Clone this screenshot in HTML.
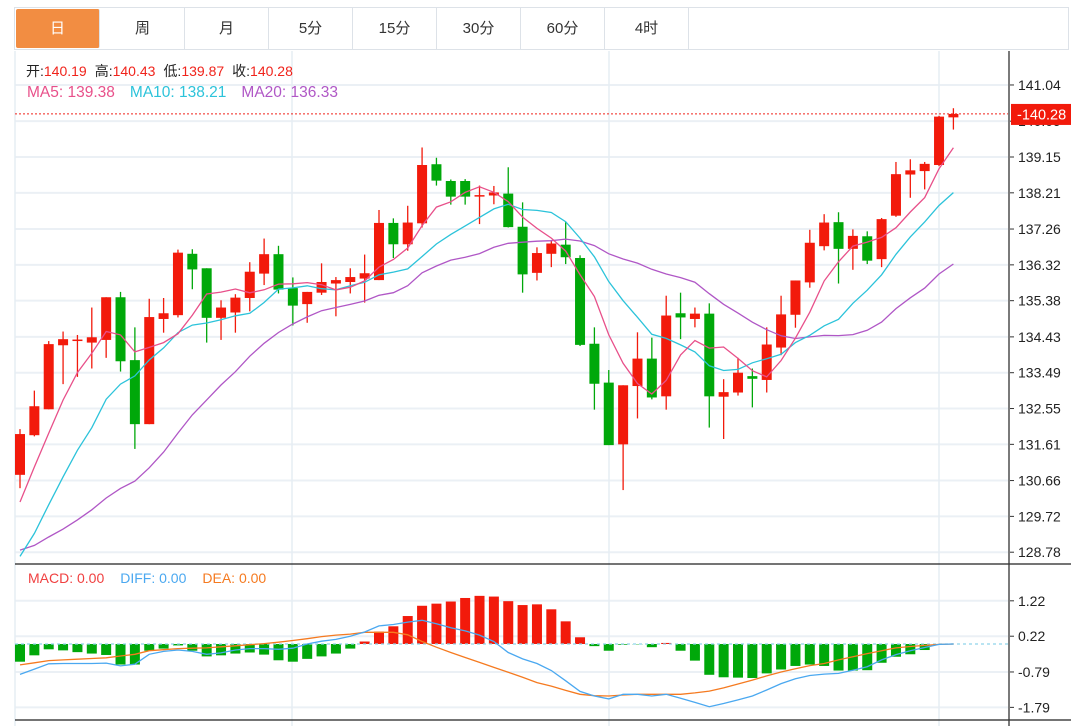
<!DOCTYPE html>
<html><head><meta charset="utf-8">
<style>
html,body{margin:0;padding:0;background:#fff;}
body{width:1071px;height:726px;overflow:hidden;position:relative;font-family:"Liberation Sans","Noto Sans CJK SC",sans-serif;}
.tabs{position:absolute;left:14px;top:7px;width:1055px;height:43px;border:1px solid #dde2e8;box-sizing:border-box;display:flex;}
.tab{width:84px;height:41px;line-height:41px;text-align:center;font-size:15px;color:#333;border-right:1px solid #dde2e8;box-sizing:border-box;}
.tab.active{background:#f28d42;color:#fff;margin:1px;height:39px;line-height:39px;width:84px;border-radius:2px;}
svg{position:absolute;left:0;top:0;}
</style></head><body>
<div class="tabs">
<div class="tab active">日</div>
<div class="tab">周</div>
<div class="tab">月</div>
<div class="tab">5分</div>
<div class="tab">15分</div>
<div class="tab">30分</div>
<div class="tab">60分</div>
<div class="tab">4时</div>
</div>
<svg id="chart" width="1071" height="726"></svg>
<script>
const opens=[130.81,131.85,132.53,134.21,134.34,134.28,134.35,135.47,133.82,132.14,134.90,135.00,136.61,136.23,134.93,135.07,135.45,136.09,136.60,135.71,135.29,135.59,135.83,135.87,135.96,135.92,137.42,136.86,137.41,138.96,138.52,138.52,138.12,138.14,138.19,137.32,136.11,136.61,136.85,136.50,134.25,133.23,131.61,133.14,133.86,132.87,135.05,134.90,135.04,132.86,132.97,133.40,133.30,134.15,135.01,135.86,136.81,137.44,136.74,137.07,136.47,137.61,138.69,138.78,138.94,140.19];
const closes=[131.88,132.61,134.24,134.37,134.36,134.42,135.47,133.79,132.14,134.95,135.05,136.64,136.20,134.93,135.20,135.46,136.14,136.60,135.67,135.25,135.61,135.87,135.92,136.00,136.10,137.42,136.86,137.43,138.94,138.53,138.11,138.11,138.15,138.22,137.31,136.07,136.63,136.88,136.52,134.22,133.20,131.59,133.16,133.86,132.84,134.99,134.94,135.04,132.87,132.98,133.49,133.33,134.23,135.02,135.91,136.90,137.43,136.74,137.08,136.43,137.52,138.70,138.80,138.97,140.21,140.28];
const highs=[132.01,133.02,134.32,134.57,134.48,135.20,135.47,135.61,134.68,135.43,135.45,136.72,136.73,136.23,135.39,135.55,136.39,137.01,136.82,135.99,135.61,136.36,136.00,136.23,136.59,137.76,137.54,137.87,139.40,139.13,138.56,138.57,138.40,138.39,138.88,137.96,136.78,136.97,137.44,136.57,134.68,133.56,133.16,134.55,134.41,135.51,135.59,135.20,135.31,133.32,133.88,133.60,134.68,135.51,135.91,137.24,137.65,137.70,137.25,137.20,137.55,139.02,139.09,139.02,140.23,140.43];
const lows=[130.46,131.82,132.53,133.19,133.38,133.60,133.88,133.52,131.49,132.14,134.54,134.94,135.68,134.28,134.35,134.54,135.10,135.79,135.57,134.73,134.80,135.53,134.97,135.57,135.33,135.92,136.50,136.69,137.30,138.40,137.90,137.90,137.39,137.91,137.30,135.59,135.91,136.26,136.34,134.19,132.52,131.59,130.41,132.29,132.79,132.52,134.37,134.68,132.05,131.75,132.89,132.58,132.97,133.95,134.67,135.72,136.70,135.83,136.19,136.34,136.26,137.58,138.08,138.30,138.91,139.87];
const priorCloses=[130.13,129.83,130.22,129.54,129.15,129.25,128.77,128.28,127.99,126.83,126.59,126.73,127.02,127.41,128.48,128.00,129.82,130.01,130.77];
const macdHist=[-0.50,-0.32,-0.15,-0.18,-0.23,-0.27,-0.31,-0.58,-0.58,-0.19,-0.13,-0.04,-0.19,-0.35,-0.32,-0.27,-0.24,-0.30,-0.46,-0.50,-0.42,-0.35,-0.27,-0.13,0.07,0.35,0.50,0.79,1.08,1.14,1.20,1.30,1.36,1.34,1.21,1.10,1.12,0.98,0.64,0.19,-0.06,-0.19,-0.02,-0.01,-0.09,0.03,-0.19,-0.47,-0.87,-0.94,-0.95,-0.96,-0.83,-0.72,-0.62,-0.58,-0.62,-0.75,-0.75,-0.74,-0.53,-0.36,-0.29,-0.17,0.00,0.00];
const diffVals=[-0.86,-0.71,-0.56,-0.55,-0.55,-0.55,-0.54,-0.62,-0.57,-0.29,-0.21,-0.17,-0.21,-0.29,-0.25,-0.17,-0.13,-0.13,-0.15,-0.12,0.00,0.08,0.13,0.22,0.34,0.51,0.55,0.62,0.67,0.57,0.46,0.37,0.25,0.07,-0.24,-0.42,-0.55,-0.75,-1.04,-1.34,-1.47,-1.55,-1.42,-1.42,-1.47,-1.42,-1.53,-1.65,-1.77,-1.68,-1.58,-1.47,-1.30,-1.12,-0.98,-0.89,-0.85,-0.83,-0.74,-0.64,-0.45,-0.30,-0.19,-0.10,-0.01,0.00];
const deaVals=[-0.59,-0.53,-0.47,-0.45,-0.43,-0.41,-0.39,-0.34,-0.29,-0.19,-0.16,-0.13,-0.12,-0.11,-0.08,-0.05,-0.02,0.01,0.05,0.10,0.15,0.21,0.25,0.28,0.33,0.33,0.33,0.26,0.07,-0.09,-0.24,-0.38,-0.52,-0.66,-0.80,-0.94,-1.09,-1.19,-1.31,-1.42,-1.46,-1.47,-1.44,-1.42,-1.42,-1.42,-1.42,-1.38,-1.33,-1.24,-1.13,-1.02,-0.90,-0.79,-0.70,-0.61,-0.55,-0.45,-0.36,-0.27,-0.19,-0.11,-0.07,-0.04,-0.01,0.00];
const priceTicks=["141.04","140.09","139.15","138.21","137.26","136.32","135.38","134.43","133.49","132.55","131.61","130.66","129.72","128.78"];
const macdTicks=["1.22","0.22","-0.79","-1.79"];
const maLegendVals=["139.38","138.21","136.33"];
const lastInfo={open:"140.19",high:"140.43",low:"139.87",close:"140.28"};

const NS="http://www.w3.org/2000/svg";
const svg=document.getElementById('chart');
function mk(tag,attrs,parent){const e=document.createElementNS(NS,tag);for(const k in attrs)e.setAttribute(k,attrs[k]);(parent||svg).appendChild(e);return e;}
const xOf=i=>20+i*14.36;
const yMain=v=>157+(139.15-v)*38.11;
const yMacd=v=>644-v*35.4;
const UP='#f21a0b',DN='#00a80a';

priceTicks.forEach(t=>{const y=yMain(parseFloat(t));
 const g=mk('line',{x1:15,x2:1008,y1:y,y2:y,stroke:'#ebf0f5','stroke-width':2});
 });
macdTicks.forEach(t=>{const y=yMacd(parseFloat(t));
 const g=mk('line',{x1:15,x2:1008,y1:y,y2:y,stroke:'#ebf0f5','stroke-width':2});
 });
[15,292,609,939].forEach(x=>{const g=mk('line',{x1:x,x2:x,y1:51,y2:726,stroke:'#e6edf3','stroke-width':1.5});
 });

const info=mk('text',{x:26,y:76,'font-size':14,fill:'#222'});

info.innerHTML='开:<tspan fill="#f0231b">'+lastInfo.open+'</tspan><tspan dx="8">高:</tspan><tspan fill="#f0231b">'+lastInfo.high+'</tspan><tspan dx="8">低:</tspan><tspan fill="#f0231b">'+lastInfo.low+'</tspan><tspan dx="8">收:</tspan><tspan fill="#f0231b">'+lastInfo.close+'</tspan>';

const maInfo=mk('text',{x:27,y:97,'font-size':15.5});

maInfo.innerHTML='<tspan fill="#e8508a">MA5: '+maLegendVals[0]+'</tspan><tspan dx="15" fill="#2cc3da">MA10: '+maLegendVals[1]+'</tspan><tspan dx="15" fill="#b057c6">MA20: '+maLegendVals[2]+'</tspan>';

const all=priorCloses.concat(closes);const P=priorCloses.length;
function ma(n){return closes.map((c,i)=>{let s=0;for(let k=0;k<n;k++)s+=all[P+i-k];return s/n;});}
const ma5=ma(5),ma10=ma(10),ma20=ma(20);

closes.forEach((c,i)=>{const o=opens[i];const up=c>=o;const col=up?UP:DN;const x=xOf(i);
 const w=mk('line',{x1:x,x2:x,y1:yMain(highs[i]),y2:yMain(lows[i]),stroke:col,'stroke-width':1.3});
 
 const t=yMain(Math.max(o,c)),b=yMain(Math.min(o,c));
 const r=mk('rect',{x:x-5,y:t,width:10,height:Math.max(b-t,1.5),fill:col});
 });

function line(vals,fy,col,name){const d=vals.map((v,i)=>(i?'L':'M')+xOf(i).toFixed(1)+' '+fy(v).toFixed(1)).join(' ');
 const p=mk('path',{d:d,fill:'none',stroke:col,'stroke-width':1.3});
 }
line(ma20,yMain,'#b057c6','ma20-line');
line(ma10,yMain,'#2cc3da','ma10-line');
line(ma5,yMain,'#e8508a','ma5-line');

const cy=yMain(closes[65]);
const pl=mk('line',{x1:15,x2:1008,y1:cy,y2:cy,stroke:'#f0231b','stroke-width':1,'stroke-dasharray':'2,2'});


[[15,1071,564,564],[15,1071,720,720]].forEach(a=>{const l=mk('line',{x1:a[0],x2:a[1],y1:a[2],y2:a[3],stroke:'#222','stroke-width':1.3});
 });
const ax=mk('line',{x1:1009,x2:1009,y1:51,y2:726,stroke:'#333','stroke-width':1.3});


priceTicks.forEach(t=>{const y=yMain(parseFloat(t));
 const tk=mk('line',{x1:1010,x2:1014,y1:y,y2:y,stroke:'#333'});
 
 const tx=mk('text',{x:1018,y:y+5,'font-size':14,fill:'#222'});tx.textContent=t;
 });
const pb=mk('rect',{x:1011,y:cy-10,width:60,height:21,fill:'#f21a0b'});

const pt=mk('text',{x:1017,y:cy+5.5,'font-size':14.5,fill:'#fff'});pt.textContent='-'+closes[65].toFixed(2);


const ml=mk('text',{x:28,y:583,'font-size':14});

ml.innerHTML='<tspan fill="#f04040">MACD: 0.00</tspan><tspan dx="16" fill="#4aa8f0">DIFF: 0.00</tspan><tspan dx="16" fill="#f57a20">DEA: 0.00</tspan>';
macdHist.forEach((v,i)=>{if(Math.abs(v)<0.005)return;const y0=yMacd(0),y1=yMacd(v);
 const r=mk('rect',{x:xOf(i)-5,y:Math.min(y0,y1),width:10,height:Math.abs(y1-y0),fill:v>0?UP:DN});
 });
const zl=mk('line',{x1:15,x2:1008,y1:yMacd(0),y2:yMacd(0),stroke:'#8fd4ea','stroke-width':1.2,'stroke-dasharray':'3,3'});

line(deaVals,yMacd,'#f57a20','dea-line');
line(diffVals,yMacd,'#4aa8f0','diff-line');
macdTicks.forEach(t=>{const y=yMacd(parseFloat(t));
 const tk=mk('line',{x1:1010,x2:1014,y1:y,y2:y,stroke:'#333'});
 
 const tx=mk('text',{x:1018,y:y+5,'font-size':14,fill:'#222'});tx.textContent=t;
 });
</script>
</body></html>
